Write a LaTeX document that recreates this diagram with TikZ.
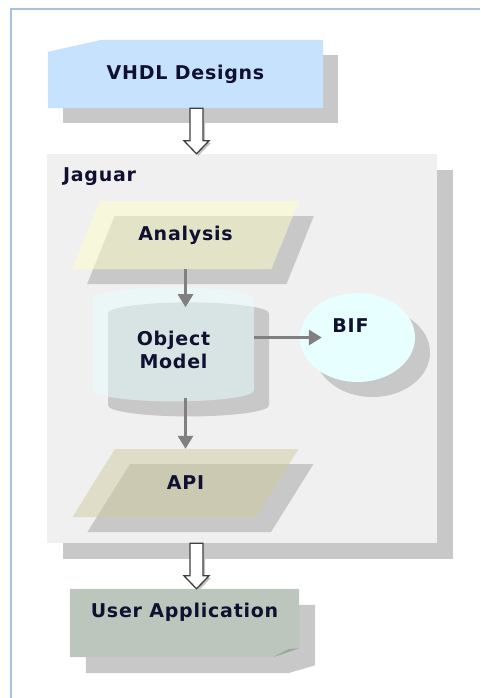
\documentclass[tikz,border=0pt]{standalone}
\usepackage{fontspec}
\setmainfont{DejaVu Sans}[LetterSpace=4]
\usetikzlibrary{shapes.geometric,shadows,arrows.meta,calc,backgrounds}

\definecolor{frameblue}{RGB}{167,194,222}
\definecolor{panelgray}{RGB}{240,240,240}
\definecolor{shadowgray}{RGB}{200,200,200}
\definecolor{vhdlblue}{RGB}{198,226,252}
\definecolor{analysisyellow}{RGB}{255,255,200}
\definecolor{modelcyan}{RGB}{232,255,255}
\definecolor{bifcyan}{RGB}{232,255,255}
\definecolor{apitan}{RGB}{208,202,160}
\definecolor{appgreen}{RGB}{188,198,188}
\definecolor{foldgreen}{RGB}{158,168,158}
\definecolor{flowgray}{RGB}{128,128,128}
\definecolor{arrowedge}{RGB}{64,64,64}
\definecolor{arrowshadow}{RGB}{195,195,195}
\definecolor{inktext}{RGB}{16,16,48}

% hollow block arrow from the first point down to the height of the second
\newcommand{\blockarrow}[2]{%
  \foreach \dx/\dy/\sty in {2pt/-2pt/arrowshade, 0pt/0pt/arrowbody} {
    \path[\sty] let \p1=(#1), \p2=(#2) in
      (\x1-6.5pt+\dx,\y1+\dy) -- (\x1-6.5pt+\dx,\y2+13pt+\dy)
      -- (\x1-12.5pt+\dx,\y2+13pt+\dy) -- (\x1+\dx,\y2+\dy)
      -- (\x1+12.5pt+\dx,\y2+13pt+\dy) -- (\x1+6.5pt+\dx,\y2+13pt+\dy)
      -- (\x1+6.5pt+\dx,\y1+\dy) -- cycle;
  }}

\begin{document}
\begin{tikzpicture}[
    x=1pt, y=-1pt,
    every node/.style={font=\bfseries\fontsize{19}{23}\selectfont,
                       text=inktext, align=center, inner sep=0pt},
    shade15/.style={drop shadow={opacity=1, fill=shadowgray,
                       shadow xshift=15pt, shadow yshift=-15pt}},
    panel/.style={rectangle, fill=panelgray,
                  drop shadow={opacity=1, fill=shadowgray,
                       shadow xshift=16pt, shadow yshift=-16pt}},
    card/.style={rectangle, minimum height=68pt},
    io box/.style={trapezium, trapezium left angle=51, trapezium right angle=129,
                   trapezium stretches=true, minimum width=227pt, minimum height=68pt,
                   fill opacity=0.5, text opacity=1, shade15},
    store/.style={cylinder, shape border rotate=90, aspect=0.3,
                  minimum width=161pt, minimum height=114pt,
                  fill=modelcyan, fill opacity=0.5, text opacity=1, shade15},
    ext/.style={ellipse, minimum width=115pt, minimum height=89pt,
                fill=bifcyan, shade15},
    flow/.style={draw=flowgray, line width=3pt, -{Triangle[width=15pt,length=13pt]}},
    arrowshade/.style={fill=arrowshadow},
    arrowbody/.style={fill=white, draw=arrowedge, line width=1.3pt},
    frame/.style={draw=frameblue, line width=2pt}]

    \useasboundingbox (0,0) rectangle (480,698);
    \draw[frame] (11,698) |- (480,9);

    \node[panel, minimum width=390pt, minimum height=389pt] (jaguar) at (242,348.5) {};
    \node[anchor=base west] (jaguartitle) at ($(jaguar.north west)+(16,28)$) {Jaguar};

    \node[card, minimum width=275pt] (vhdl) at (185.5,74) {VHDL Designs};

    \node[io box, fill=analysisyellow] (analysis) at (185.5,235) {Analysis};
    \node[store] (model) at (173.5,350) {Object\\Model};
    \node[ext] (bif) at (357.5,337.5) {};
    \node (biftext) at ($(bif)+(-7,-12)$) {BIF};
    \node[io box, fill=apitan] (api) at (185.5,483) {API};

    \node[card, minimum width=229pt, text depth=26pt] (userapp) at (184.5,623) {User Application};

    % card outlines behind the texts
    \begin{scope}[on background layer]
        \fill[shadowgray] ($(vhdl.north west)+(15,15)$) rectangle ($(vhdl.south east)+(15,15)$);
        \fill[vhdlblue] ($(vhdl.north west)+(0,12)$) -- ($(vhdl.north west)+(54,0)$)
            -- (vhdl.north east) -- (vhdl.south east) -- (vhdl.south west) -- cycle;

        \fill[shadowgray] ($(userapp.north west)+(16,16)$) -- ($(userapp.north east)+(16,16)$)
            -- ($(userapp.south east)+(16,8)$) -- ($(userapp.south east)+(-11,16)$)
            -- ($(userapp.south west)+(16,16)$) -- cycle;
        \fill[appgreen] (userapp.north west) -- (userapp.north east)
            -- ($(userapp.south east)+(0,-9)$) -- ($(userapp.south east)+(-26,0)$)
            -- (userapp.south west) -- cycle;
        \fill[foldgreen] ($(userapp.south east)+(-26,0)$) -- ($(userapp.south east)+(0,-9)$)
            -- ($(userapp.south east)+(-11,-8)$) -- cycle;
    \end{scope}

    \draw[flow, shorten >=-20pt] (analysis.south) -- (analysis.south |- model.north);
    \draw[flow, shorten >=-22pt] (model.east |- bif.west) -- (bif.west);
    \draw[flow, shorten <=-4pt] (api.north |- model.south) -- (api.north);

    \blockarrow{$(vhdl.south)+(11,0)$}{jaguar.north}
    \blockarrow{$(jaguar.south -| userapp.north)+(12,0)$}{userapp.north}

\end{tikzpicture}
\end{document}
